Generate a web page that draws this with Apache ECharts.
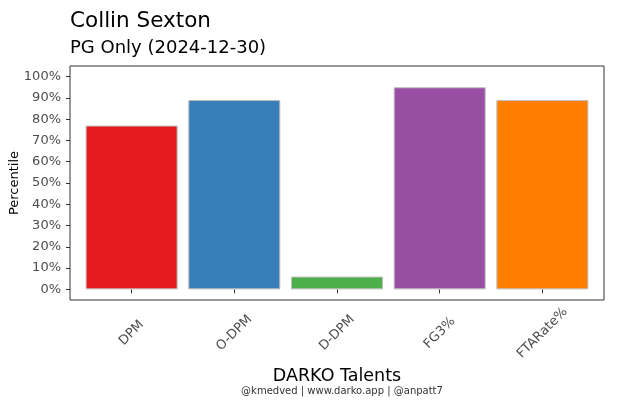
<!DOCTYPE html>
<html lang="en">
<head>
    <meta charset="UTF-8">
    <title>DARKO Talents - Collin Sexton</title>
    <script src="https://cdn.jsdelivr.net/npm/echarts@6.0.0/dist/echarts.min.js"></script>
    <style>
        body { margin: 0; background: #fff; }
        #chart { width: 630px; height: 412px; }
    </style>
</head>
<body>
    <div id="chart"></div>
    <script>
        // data
        const categories = ['DPM', 'O-DPM', 'D-DPM', 'FG3%', 'FTARate%'];
        const percentiles = [0.77, 0.89, 0.06, 0.95, 0.89];
        const barColors = ['#E41A1C', '#377EB8', '#4DAF4A', '#984EA3', '#FF7F00'];
        const yTicks = [0, 0.1, 0.2, 0.3, 0.4, 0.5, 0.6, 0.7, 0.8, 0.9, 1];
        const xTicks = [1, 2, 3, 4, 5];

        const font = 'DejaVu Sans';
        let chart = echarts.init(document.getElementById('chart'));

        let option = {
            backgroundColor: '#fff',
            animation: false,
            textStyle: { fontFamily: font },
            title: [
                {
                    text: 'Collin Sexton',
                    left: 65, top: 5,
                    textStyle: { fontFamily: font, fontSize: 21.5, fontWeight: 'normal', color: '#000' }
                },
                {
                    text: 'PG Only (2024-12-30)',
                    left: 65, top: 34,
                    textStyle: { fontFamily: font, fontSize: 18, fontWeight: 'normal', color: '#000' }
                },
                {
                    text: '@kmedved | www.darko.app | @anpatt7',
                    left: 337, top: 381, textAlign: 'center',
                    textStyle: { fontFamily: font, fontSize: 10, fontWeight: 'normal', color: '#333' }
                }
            ],
            grid: {
                left: 70, right: 26, top: 66, bottom: 112,
                outerBoundsMode: 'none',
                containLabel: false,
                show: true,
                borderColor: '#333',
                borderWidth: 1,
                backgroundColor: '#fff'
            },
            xAxis: {
                type: 'value',
                min: 0.4,
                max: 5.6,
                name: 'DARKO Talents',
                nameLocation: 'middle',
                nameGap: 64,
                nameTextStyle: { fontFamily: font, fontSize: 17.5, color: '#000' },
                axisLine: { show: false },
                splitLine: { show: false },
                axisTick: { show: true, customValues: xTicks, length: 4, lineStyle: { color: '#333' } },
                axisLabel: {
                    customValues: xTicks,
                    formatter: v => categories[Math.round(v) - 1],
                    rotate: 45,
                    align: 'center',
                    verticalAlign: 'middle',
                    margin: 33,
                    color: '#4d4d4d',
                    fontSize: 13,
                    fontFamily: font
                }
            },
            yAxis: {
                type: 'value',
                min: -0.05,
                max: 1.05,
                name: 'Percentile',
                nameLocation: 'middle',
                nameGap: 49,
                nameMoveOverlap: false,
                nameRotate: 90,
                nameTextStyle: { fontFamily: font, fontSize: 13, color: '#000' },
                axisLine: { show: false },
                splitLine: { show: false },
                axisTick: { show: true, customValues: yTicks, length: 4, lineStyle: { color: '#333' } },
                axisLabel: {
                    customValues: yTicks,
                    formatter: v => Math.round(v * 100) + '%',
                    margin: 9,
                    color: '#4d4d4d',
                    fontSize: 13,
                    fontFamily: font
                }
            },
            series: [
                {
                    type: 'bar',
                    barWidth: 92,
                    data: percentiles.map((p, i) => ({
                        value: [xTicks[i], p],
                        itemStyle: { color: barColors[i], borderColor: '#bdbdbd', borderWidth: 1 }
                    }))
                }
            ]
        };
        chart.setOption(option);
    </script>
</body>
</html>
